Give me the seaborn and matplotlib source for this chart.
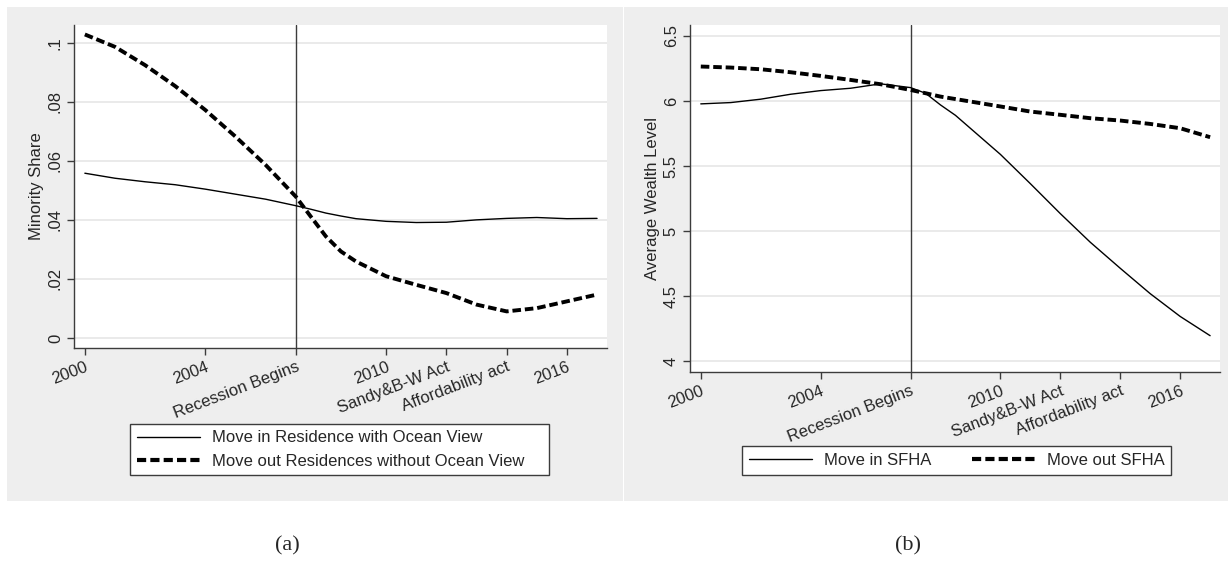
"""Two-panel Stata-style trend chart: minority share and wealth level around the recession."""

import matplotlib

matplotlib.use("Agg")
import matplotlib.pyplot as plt
import numpy as np
import pandas as pd
import seaborn as sns
from matplotlib.patches import Rectangle

# ---- data ----
years = [2000, 2001, 2002, 2003, 2004, 2005, 2006, 2007, 2007.5, 2008, 2008.5,
         2009, 2010, 2011, 2012, 2013, 2014, 2015, 2016, 2017]

share_in_view = [0.0558, 0.0541, 0.0529, 0.0519, 0.0504, 0.0487, 0.0470, 0.0448, 0.0436,
                 0.0423, 0.0413, 0.0404, 0.0395, 0.0391, 0.0392, 0.0400, 0.0405, 0.0408,
                 0.0404, 0.0405]
share_out_noview = [0.1028, 0.0986, 0.0924, 0.0853, 0.0772, 0.0682, 0.0586, 0.0479, 0.0411,
                    0.0344, 0.0293, 0.0259, 0.0209, 0.0180, 0.0152, 0.0113, 0.0090, 0.0101,
                    0.0124, 0.0147]

wealth_in_sfha = [5.978, 5.988, 6.014, 6.052, 6.080, 6.098, 6.132, 6.103, 6.060,
                  5.970, 5.890, 5.790, 5.590, 5.365, 5.135, 4.915, 4.715, 4.520,
                  4.345, 4.197]
wealth_out_sfha = [6.265, 6.257, 6.244, 6.221, 6.193, 6.162, 6.129, 6.085, 6.060,
                   6.034, 6.015, 5.996, 5.958, 5.919, 5.894, 5.868, 5.850, 5.824,
                   5.791, 5.722]

xtick_pos = [2000, 2004, 2007, 2010, 2012, 2014, 2016]
xtick_labels = ["2000", "2004", "Recession Begins", "2010", "Sandy&B-W Act",
                "Affordability act", "2016"]

left_yticks = [0, 0.02, 0.04, 0.06, 0.08, 0.1]
left_ylabels = ["0", ".02", ".04", ".06", ".08", ".1"]
right_yticks = [4, 4.5, 5, 5.5, 6, 6.5]
right_ylabels = ["4", "4.5", "5", "5.5", "6", "6.5"]

left_series = ["Move in Residence with Ocean View", "Move out Residences without Ocean View"]
right_series = ["Move in SFHA", "Move out SFHA"]

_BG = "#eeeeee"
_AXIS = "#3c3c3c"
_GRID = "#e6e6e6"
_DASH = (2.2, 1.0)
W, H = 1228, 562


def px_rect(x0, y0, x1, y1):
    """Pixel box (top-left origin) -> figure-fraction [left, bottom, width, height]."""
    return [x0 / W, 1 - y1 / H, (x1 - x0) / W, (y1 - y0) / H]


sns.set_theme(style="white")
plt.rcParams["font.family"] = ["Liberation Sans", "DejaVu Sans"]

fig = plt.figure(figsize=(W / 100, H / 100), dpi=100)
fig.patch.set_facecolor("white")
for box in (px_rect(7, 7, 623, 501), px_rect(624, 7, 1228, 501)):
    fig.patches.append(Rectangle((box[0], box[1]), box[2], box[3], transform=fig.transFigure,
                                 facecolor=_BG, edgecolor="none", zorder=-10))


def draw_panel(ax, y_in, y_out, names, ylabel, yticks, ylabels, ylim, legend_box, ncol):
    df = pd.DataFrame({
        "year": np.concatenate([years, years]),
        "value": np.concatenate([y_in, y_out]),
        "series": [names[0]] * len(years) + [names[1]] * len(years),
    })
    ax.set_facecolor("white")
    for y in yticks:
        ax.axhline(y, color=_GRID, lw=1.2, zorder=0)
    ax.axvline(2007, color=_AXIS, lw=1.0, zorder=1)
    sns.lineplot(data=df, x="year", y="value", hue="series", style="series",
                 palette=["black", "black"], dashes=[(None, None), _DASH],
                 size="series", sizes=[1.0, 2.8], ax=ax, legend=False, zorder=3)
    ax.lines[-1].set_dashes(_DASH)
    ax.lines[-2].set_linestyle("-")

    ax.set_xlim(1999.64, 2017.33)
    ax.set_ylim(*ylim)
    ax.set_xticks(xtick_pos)
    ax.set_xticklabels(xtick_labels, rotation=21, ha="right", rotation_mode="anchor", fontsize=12)
    ax.set_yticks(yticks)
    ax.set_yticklabels(ylabels, rotation=90, va="center", fontsize=12)
    ax.tick_params(axis="both", direction="out", length=5, width=1, color=_AXIS,
                   left=True, bottom=True, pad=3)
    ax.set_xlabel("")
    ax.set_ylabel(ylabel, fontsize=12, labelpad=3)
    for side in ("top", "right"):
        ax.spines[side].set_visible(False)
    for side in ("left", "bottom"):
        ax.spines[side].set_color(_AXIS)
        ax.spines[side].set_linewidth(1.0)

    handles = [plt.Line2D([], [], color="black", lw=1.0),
               plt.Line2D([], [], color="black", lw=3.0, dashes=_DASH)]
    x0, y0, x1, y1 = legend_box
    leg = fig.legend(handles, names, loc="center", ncol=ncol, mode="expand",
                     bbox_to_anchor=(x0 / W, 1 - y1 / H, (x1 - x0) / W, (y1 - y0) / H),
                     fontsize=12, handlelength=3.8, handletextpad=0.7, columnspacing=1.8,
                     labelspacing=0.5, borderpad=0.4, borderaxespad=0.0,
                     frameon=True, fancybox=False)
    leg.get_frame().set_edgecolor(_AXIS)
    leg.get_frame().set_linewidth(1.0)
    leg.get_frame().set_facecolor("white")
    leg.get_frame().set_alpha(1.0)


ax_a = fig.add_axes(px_rect(74, 25, 607, 348))
draw_panel(ax_a, share_in_view, share_out_noview, left_series, "Minority Share",
           left_yticks, left_ylabels, (-0.0034, 0.106), (130, 422, 549, 477), 1)

ax_b = fig.add_axes(px_rect(690, 25, 1220, 372))
draw_panel(ax_b, wealth_in_sfha, wealth_out_sfha, right_series, "Average Wealth Level",
           right_yticks, right_ylabels, (3.918, 6.584), (742, 445, 1171, 476), 2)

serif = ["Liberation Serif", "DejaVu Serif"]
fig.text(287 / W, 1 - 546 / H, "(a)", ha="center", va="center", fontsize=16, family=serif)
fig.text(908 / W, 1 - 546 / H, "(b)", ha="center", va="center", fontsize=16, family=serif)

fig.savefig("out.png", dpi=100)
plt.close(fig)
